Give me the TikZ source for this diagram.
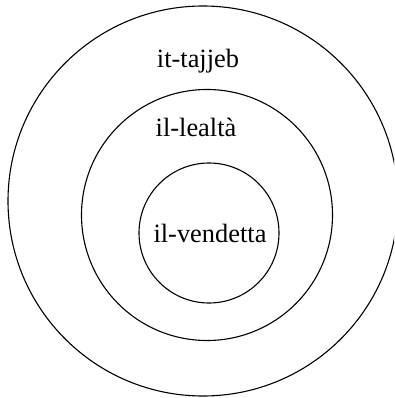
\documentclass[tikz,border=0pt]{standalone}
\usepackage{fontspec}
\setmainfont{Liberation Serif}
\begin{document}
\begin{tikzpicture}[x=1pt,y=-1pt,
  ring/.style={draw=black,line width=1.1pt},
  lbl/.style={anchor=base,inner sep=0pt,font=\fontsize{26.4}{30}\selectfont}]
\useasboundingbox (0,0) rectangle (394,398);
\begin{scope}
\clip (0,0) rectangle (394,398);
\draw[ring] (203,201) circle[radius=195];
\end{scope}
\draw[ring] (207,215) circle[radius=125.5];
\draw[ring] (209,233) circle[radius=70];
\node[lbl] (outer) at (198,68) {it-tajjeb};
\node[lbl] (middle) at (196,137) {il-lealtà};
\node[lbl] (inner) at (210,242) {il-vendetta};
\end{tikzpicture}
\end{document}
